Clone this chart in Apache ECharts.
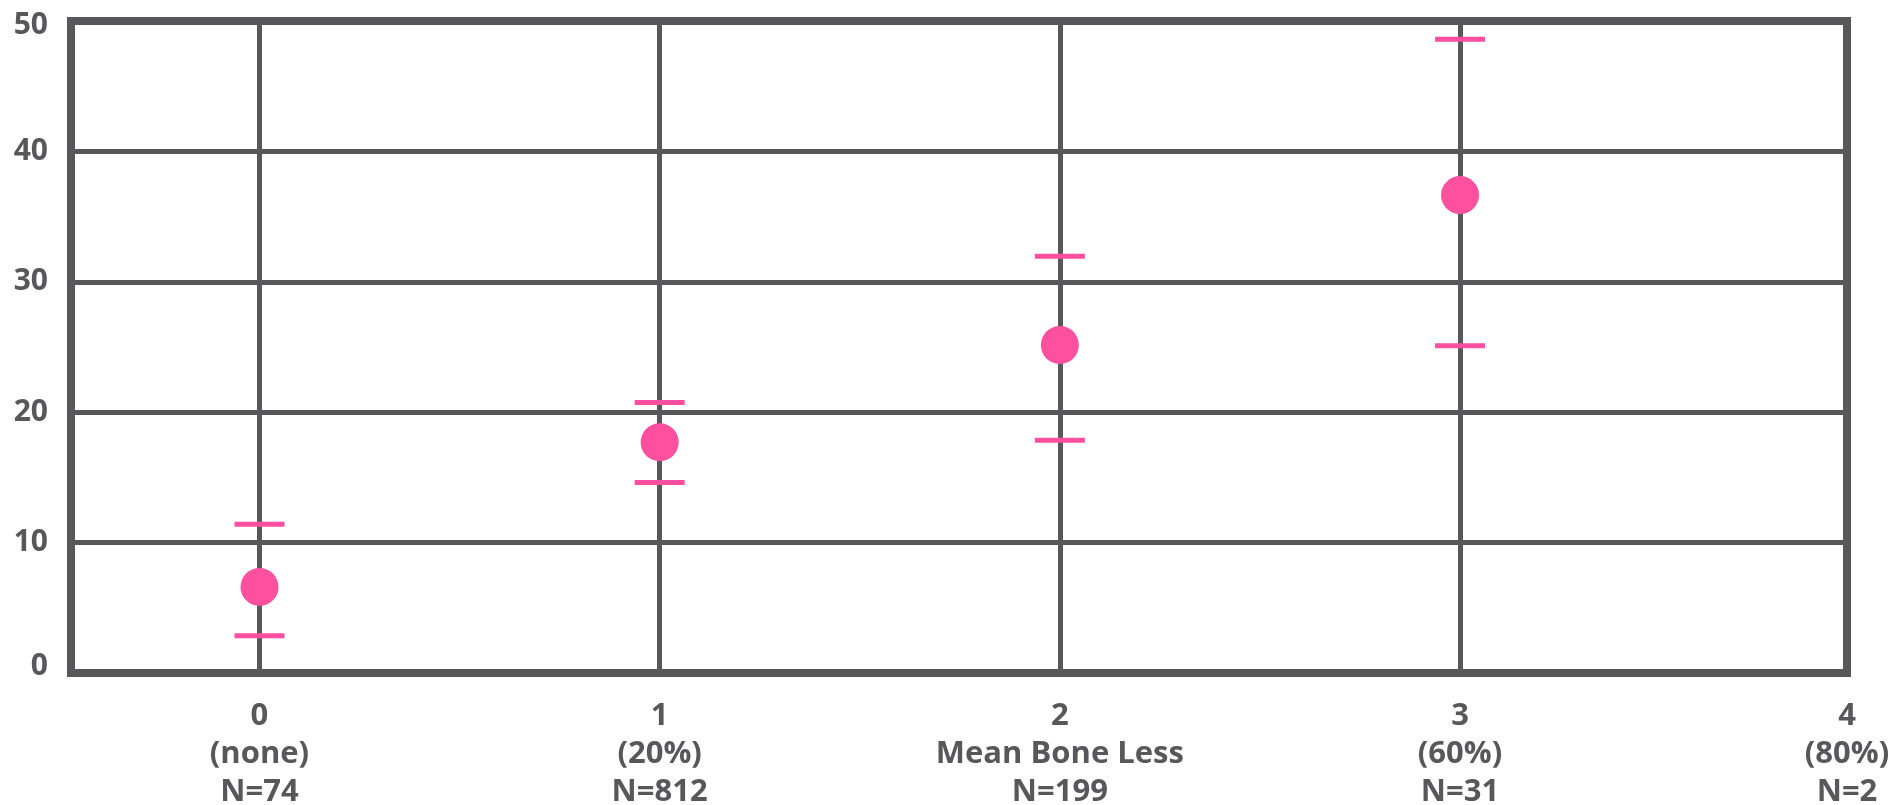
<!DOCTYPE html>
<html>
<head>
<meta charset="utf-8">
<script src="https://cdn.jsdelivr.net/npm/echarts@6/dist/echarts.min.js"></script>
<style>
html,body{margin:0;padding:0;background:#fff;}
#chart{width:1904px;height:805px;}
</style>
</head>
<body>
<div id="chart"></div>
<script>
// Tick labels for the x axis (one per group)
const tickLabels = [
  ['0', '(none)', 'N=74'],
  ['1', '(20%)', 'N=812'],
  ['2', 'Mean Bone Less', 'N=199'],
  ['3', '(60%)', 'N=31'],
  ['4', '(80%)', 'N=2']
];
// Group positions on the x axis
const groups = [0, 1, 2, 3];
// Mean values and error bar bounds
const means = [6.6, 17.7, 25.15, 36.65];
const lower = [2.85, 14.6, 17.85, 25.1];
const upper = [11.4, 20.75, 31.95, 48.6];

const GRAY = '#58585a';
const PINK = '#ff4f9f';
const X_MIN = -0.471;
const X_MAX = 3.967;

const yLabelStyle = { color: GRAY, fontFamily: 'Open Sans', fontWeight: 'bold', fontSize: 30 };

const chart = echarts.init(document.getElementById('chart'));
chart.setOption({
  backgroundColor: '#ffffff',
  animation: false,
  grid: {
    left: 71, right: 57, top: 21, bottom: 132,
    outerBoundsMode: 'none',
    containLabel: false,
    show: true, borderColor: GRAY, borderWidth: 8, backgroundColor: 'transparent'
  },
  xAxis: {
    type: 'value',
    min: X_MIN,
    max: X_MAX,
    axisLine: { show: false },
    axisTick: { show: false, customValues: groups },
    splitLine: { show: true, lineStyle: { color: GRAY, width: 5 } },
    axisLabel: {
      customValues: [0, 1, 2, 3, X_MAX],
      margin: 24,
      color: GRAY,
      fontFamily: 'Open Sans',
      fontWeight: 'bold',
      fontSize: 31,
      lineHeight: 38,
      formatter: function (v) {
        const i = Math.round(v);
        return tickLabels[i] ? tickLabels[i].join('\n') : '';
      }
    }
  },
  yAxis: {
    type: 'value',
    min: 0,
    max: 50,
    interval: 10,
    axisLine: { show: false },
    axisTick: { show: false },
    splitLine: { show: true, lineStyle: { color: GRAY, width: 5 } },
    axisLabel: Object.assign({
      margin: 23,
      formatter: function (v) {
        if (v === 50) return '{top|' + v + '}';
        if (v === 0) return '{bot|' + v + '}';
        return '' + v;
      },
      rich: {
        top: Object.assign({ padding: [8, 0, 0, 0] }, yLabelStyle),
        bot: Object.assign({ padding: [0, 0, 14, 0] }, yLabelStyle)
      }
    }, yLabelStyle)
  },
  series: [
    {
      type: 'custom',
      z: 3,
      encode: { x: 0, y: [1, 2] },
      data: groups.map((g, i) => [g, lower[i], upper[i]]),
      renderItem: function (params, api) {
        const x = api.value(0);
        const pLo = api.coord([x, api.value(1)]);
        const pHi = api.coord([x, api.value(2)]);
        const hw = 25;
        const st = { stroke: PINK, lineWidth: 5 };
        return {
          type: 'group',
          children: [
            { type: 'line', shape: { x1: pLo[0] - hw, y1: pLo[1], x2: pLo[0] + hw, y2: pLo[1] }, style: st },
            { type: 'line', shape: { x1: pHi[0] - hw, y1: pHi[1], x2: pHi[0] + hw, y2: pHi[1] }, style: st }
          ]
        };
      }
    },
    {
      type: 'scatter',
      z: 4,
      symbol: 'circle',
      symbolSize: 38,
      itemStyle: { color: PINK, opacity: 1 },
      data: groups.map((g, i) => [g, means[i]])
    }
  ]
});
</script>
</body>
</html>
